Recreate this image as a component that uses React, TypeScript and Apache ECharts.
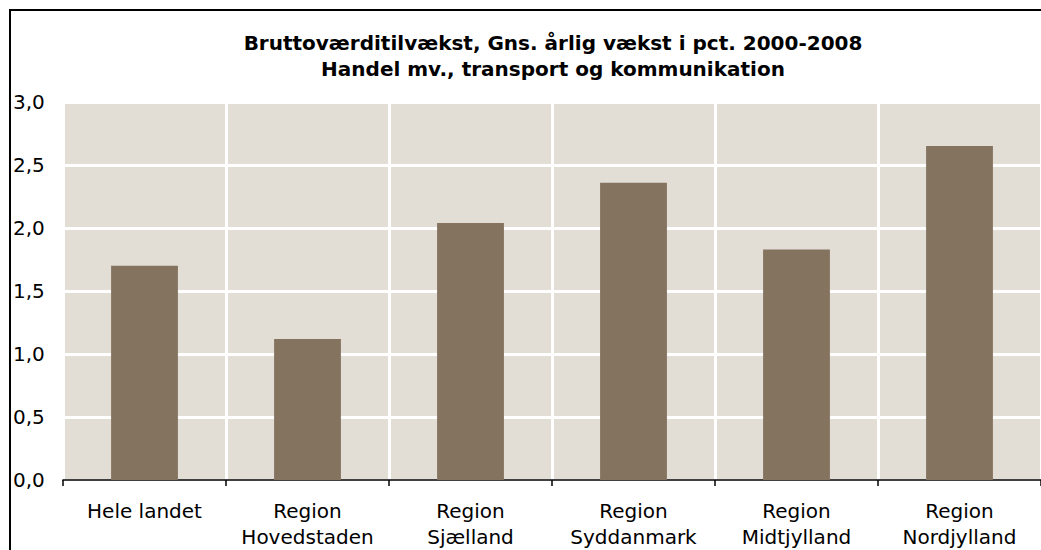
import React, { useEffect, useRef } from "react";
import * as echarts from "echarts";

const categories = [
  "Hele landet",
  "Region\nHovedstaden",
  "Region\nSjælland",
  "Region\nSyddanmark",
  "Region\nMidtjylland",
  "Region\nNordjylland",
];
const values = [1.7, 1.12, 2.04, 2.36, 1.83, 2.65];
const titleLines = [
  "Bruttoværditilvækst, Gns. årlig vækst i pct. 2000-2008",
  "Handel mv., transport og kommunikation",
];

export default function App() {
  const ref = useRef<HTMLDivElement>(null);
  useEffect(() => {
    const chart = echarts.init(ref.current!, undefined, { renderer: "svg" });
    const font = "Verdana, 'DejaVu Sans', sans-serif";
    chart.setOption({
      animation: false,
      backgroundColor: "#ffffff",
      title: {
        text: titleLines.join("\n"),
        left: 548,
        textAlign: "center",
        top: 25,
        textStyle: {
          fontFamily: font,
          fontWeight: "bold",
          fontSize: 20,
          lineHeight: 26,
          color: "#000",
        },
      },
      graphic: [
        {
          type: "rect",
          shape: { x: 10, y: 10, width: 1100, height: 600 },
          style: { fill: "none", stroke: "#000", lineWidth: 2 },
          silent: true,
        },
      ],
      grid: {
        left: 63,
        right: -2,
        top: 102,
        bottom: 70,
        show: true,
        backgroundColor: "#e2ded5",
        borderWidth: 0,
      },
      xAxis: {
        type: "category",
        data: categories,
        axisLine: { lineStyle: { color: "#000", width: 1.5 } },
        axisTick: { show: true, length: 6, lineStyle: { color: "#000", width: 1.5 } },
        splitLine: { show: true, interval: 0, lineStyle: { color: "#ffffff", width: 3 } },
        axisLabel: {
          interval: 0,
          margin: 18,
          fontFamily: font,
          fontSize: 20,
          lineHeight: 26,
          color: "#000",
        },
      },
      yAxis: {
        type: "value",
        min: 0,
        max: 3,
        interval: 0.5,
        axisLine: { show: false },
        axisTick: { show: false },
        splitLine: { lineStyle: { color: "#ffffff", width: 3 } },
        axisLabel: {
          align: "left",
          margin: 50,
          fontFamily: font,
          fontSize: 20,
          color: "#000",
          formatter: (v: number) => v.toFixed(1).replace(".", ","),
        },
      },
      series: [
        {
          type: "bar",
          data: values,
          barWidth: "41%",
          itemStyle: { color: "#84735f" },
        },
      ],
    });
    return () => chart.dispose();
  }, []);
  return (
    <div
      ref={ref}
      style={{ position: "absolute", left: 0, top: 0, width: 1041, height: 550 }}
    />
  );
}
